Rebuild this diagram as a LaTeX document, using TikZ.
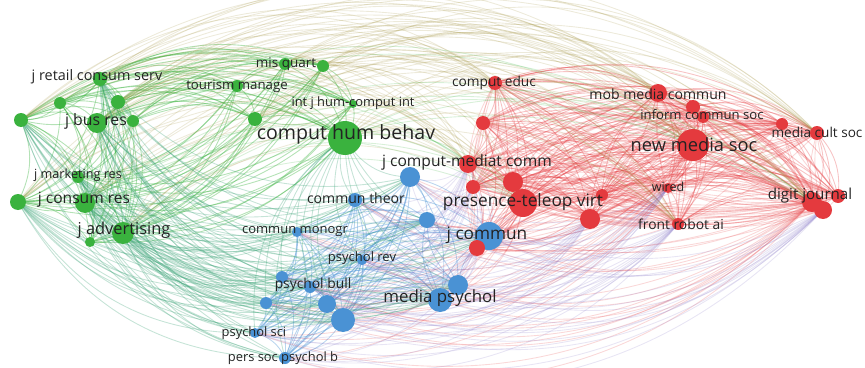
\documentclass[tikz,border=0pt]{standalone}
\usepackage{fontspec}
\setmainfont{Open Sans}
\definecolor{grn}{RGB}{58,178,62}
\definecolor{rd}{RGB}{228,58,62}
\definecolor{blu}{RGB}{74,146,212}
\definecolor{olv}{RGB}{165,150,70}
\definecolor{plm}{RGB}{140,125,200}
\definecolor{txt}{RGB}{35,35,35}
\pgfdeclarelayer{edges}
\pgfsetlayers{edges,main}
\tikzset{
  dot/.style={circle,inner sep=0pt,minimum size={#1*0.06cm}},
  lab/.style={text=txt,inner sep=0pt,font=\fontsize{#1}{#1}\selectfont},
  link/.style={draw=#1,draw opacity=.3,line width=.75pt},
  faint/.style={draw opacity=.2},
  strong/.style={draw opacity=.38},
}
\begin{document}
\begin{tikzpicture}[x=0.03cm,y=-0.03cm]
        \useasboundingbox (0,0) rectangle (865,368);

        % draw nodes
        \foreach \n/\x/\y/\r in {g1/100/79/7,g2/60/103/6,g3/118/102/7,g4/21/120/7,
          g5/97/123/10,g6/133/121/6,g7/237/86/6,g8/285/64/6,g9/323/66/6,
          g10/353/104/4,g11/255/119/7,g12/345/138/17,g13/78/177/6,g14/85/203/10,
          g15/18/202/8,g16/123/233/11,g17/90/242/5}
          \node[dot=\r,fill=grn] (\n) at (\x,\y) {};
        \foreach \n/\x/\y/\r in {b1/410/177/10,b2/355/200/7,b3/297/232/5,b4/362/260/5,
          b5/310/287/6,b6/282/277/6,b7/266/303/6,b8/327/304/9,b9/343/320/12,
          b10/255/333/5,b11/285/358/6,b12/440/300/12,b13/458/285/10,
          b14/489/236/14,b15/427/220/8}
          \node[dot=\r,fill=blu] (\n) at (\x,\y) {};
        \foreach \n/\x/\y/\r in {r1/495/83/7,r2/483/123/7,r3/468/164/9,r4/473/187/7,
          r5/513/182/10,r6/523/203/14,r7/602/195/6,r8/590/219/10,r9/477/248/8,
          r10/658/93/9,r11/693/107/7,r12/703/117/6,r13/693/145/16,r14/668/188/5,
          r15/678/224/6,r16/782/124/6,r17/817/133/7,r18/812/202/10,r19/823/210/9,
          r20/838/196/7}
          \node[dot=\r,fill=rd] (\n) at (\x,\y) {};

        % draw links
        \begin{pgfonlayer}{edges}
        \foreach \i in {1,...,16} {
          \pgfmathtruncatemacro\k{\i+1}
          \foreach \j in {\k,...,17}
            \draw[link=grn,strong] (g\i.center) to[bend left=25] (g\j.center);
        }
        \foreach \i in {1,...,19} {
          \pgfmathtruncatemacro\k{\i+1}
          \foreach \j in {\k,...,20} {
            \draw[link=rd] (r\i.center) to[bend left=25] (r\j.center);
            \draw[link=rd,faint] (r\i.center) to[bend right=12] (r\j.center);
          }
        }
        \foreach \i in {1,...,14} {
          \pgfmathtruncatemacro\k{\i+1}
          \foreach \j in {\k,...,15}
            \draw[link=blu,strong] (b\i.center) to[bend left=25] (b\j.center);
        }
        % green to red, over the top
        \foreach \i in {1,3,4,5,8,9,11,12,14,15,16}
          \foreach \j in {1,3,6,10,13,15,17,18}
            \draw[link=olv,faint] (g\i.center) to[bend left=38] (r\j.center);
        \foreach \i in {5,12,14,16}
          \foreach \j in {3,6,13,18}
            \draw[link=grn,faint] (g\i.center) to[bend left=30] (r\j.center);
        % red to blue, under the bottom
        \foreach \i in {6,13,18}
          \foreach \j in {1,...,15}
            \draw[link=rd,faint] (r\i.center) to[bend left=32] (b\j.center);
        \foreach \i in {3,4,8,9,14,15,19}
          \foreach \j in {1,...,15}
            \draw[link=plm,faint] (r\i.center) to[bend left=32] (b\j.center);
        % blue to green
        \foreach \i in {1,...,15}
          \foreach \j in {1,4,5,12,13,14,15,16}
            \draw[link=blu!40!grn] (b\i.center) to[bend left=30] (g\j.center);
        \end{pgfonlayer}

        % draw labels
        \foreach \n/\x/\y/\s/\t in {g1/97/77/12.3/j retail consum serv,
          g5/96/121/13.5/j bus res,g7/237/86/11.3/tourism manage,
          g8/286/64/11.5/mis quart,g10/353/103/11/int j hum-comput int,
          g12/346/134/16.7/comput hum behav,g13/78/175/10.8/j marketing res,
          g14/84/200/13.3/j consum res,g16/124/230/14/j advertising,
          b2/356/198/12/commun theor,b3/295/232/11.1/commun monogr,
          b4/362/258/11.1/psychol rev,b5/313/285/11.8/psychol bull,
          b10/254/333/11/psychol sci,b11/283/358/11/pers soc psychol b,
          b12/440/298/14.4/media psychol,b14/487/235/14.7/j commun,
          r1/494/83/11.7/comput educ,r3/467/162/13.3/j comput-mediat comm,
          r6/523/202/14.7/presence-teleop virt,r10/658/94/12/mob media commun,
          r12/702/115/11.2/inform commun soc,r13/694/145/15.6/new media soc,
          r14/668/187/10.7/wired,r15/681/224/11.8/front robot ai,
          r17/817/132/11.6/media cult soc,r18/810/196/12.9/digit journal}
          \node[lab=\s] (\n t) at (\x,\y) {\t};
\end{tikzpicture}
\end{document}
